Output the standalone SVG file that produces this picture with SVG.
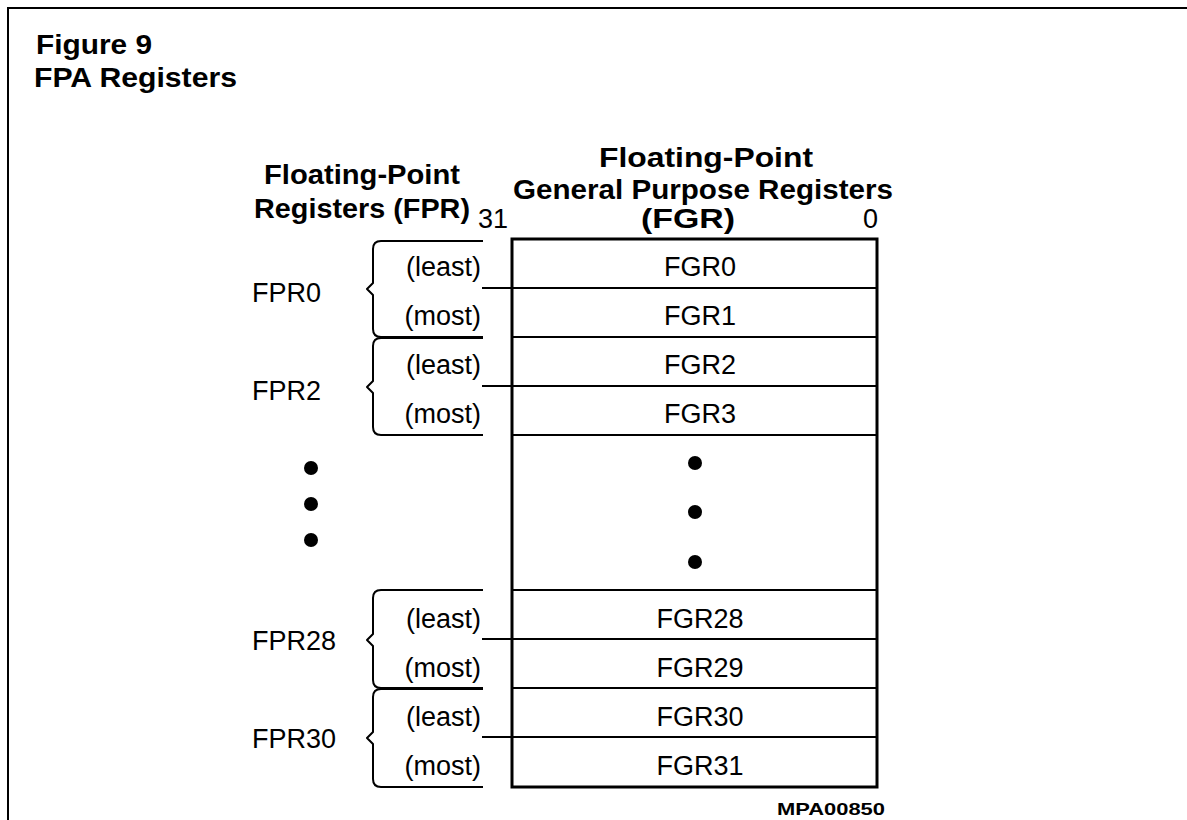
<svg xmlns="http://www.w3.org/2000/svg" width="1187" height="820" viewBox="0 0 1187 820">
<style>
.b{font-family:"Liberation Sans",Arial,sans-serif;font-weight:bold;font-size:28px;fill:#000}
.r{font-family:"Liberation Sans",Arial,sans-serif;font-size:27px;fill:#000}
.s{font-family:"Liberation Sans",Arial,sans-serif;font-weight:bold;font-size:17px;fill:#000}
.ln{stroke:#000;stroke-width:2;fill:none}
.br{stroke:#000;stroke-width:2;fill:none;stroke-linejoin:round}
.dot{fill:#000}
</style>
<rect width="1187" height="820" fill="#fff"/>
<g id="frame">
<path class="ln" d="M8,820 V8 H1187" stroke-width="2.5"/>
</g>
<g id="title">
<text class="b" x="36" y="54" textLength="116" lengthAdjust="spacingAndGlyphs">Figure 9</text>
<text class="b" x="34" y="87" textLength="203" lengthAdjust="spacingAndGlyphs">FPA Registers</text>
</g>
<g id="headings">
<text class="b" x="706" y="167" text-anchor="middle" textLength="214" lengthAdjust="spacingAndGlyphs">Floating-Point</text>
<text class="b" x="703" y="199" text-anchor="middle" textLength="380" lengthAdjust="spacingAndGlyphs">General Purpose Registers</text>
<text class="b" x="362" y="184" text-anchor="middle" textLength="196" lengthAdjust="spacingAndGlyphs">Floating-Point</text>
<text class="b" x="362" y="218" text-anchor="middle" textLength="216" lengthAdjust="spacingAndGlyphs">Registers (FPR)</text>
<text class="r" x="478" y="228">31</text>
<text class="b" x="688" y="228" text-anchor="middle" textLength="94" lengthAdjust="spacingAndGlyphs">(FGR)</text>
<text class="r" x="878" y="228" text-anchor="end">0</text>
</g>
<g id="fgr">
<rect x="512" y="239" width="365" height="548" fill="none" stroke="#000" stroke-width="3"/>
<path class="ln" d="M512,288H877 M512,337H877 M512,386H877 M512,435H877 M512,590H877 M512,639H877 M512,688H877 M512,737H877"/>
<g text-anchor="middle" class="r">
<text class="r" x="700" y="276">FGR0</text>
<text class="r" x="700" y="325">FGR1</text>
<text class="r" x="700" y="374">FGR2</text>
<text class="r" x="700" y="423">FGR3</text>
<text class="r" x="700" y="628">FGR28</text>
<text class="r" x="700" y="677">FGR29</text>
<text class="r" x="700" y="726">FGR30</text>
<text class="r" x="700" y="775">FGR31</text>
</g>
<circle class="dot" cx="695" cy="463" r="7"/>
<circle class="dot" cx="695" cy="512" r="7"/>
<circle class="dot" cx="695" cy="562" r="7"/>
</g>
<g id="connectors">
<path class="ln" d="M482,288H512 M482,386H512 M482,639H512 M482,737H512"/>
</g>
<g id="fpr0">
<path class="br" d="M483,241 H381 Q373,241 373,249 V283 L367,289 L373,295 V329 Q373,337 381,337 H483"/>
<text class="r" x="481" y="276" text-anchor="end">(least)</text>
<text class="r" x="481" y="325" text-anchor="end">(most)</text>
<text class="r" x="252" y="302">FPR0</text>
</g>
<g id="fpr2">
<path class="br" d="M483,338 H381 Q373,338 373,346 V381 L367,387 L373,393 V427 Q373,435 381,435 H483"/>
<text class="r" x="481" y="374" text-anchor="end">(least)</text>
<text class="r" x="481" y="423" text-anchor="end">(most)</text>
<text class="r" x="252" y="400">FPR2</text>
</g>
<g id="ellipsis">
<circle class="dot" cx="311" cy="468" r="7"/>
<circle class="dot" cx="311" cy="504" r="7"/>
<circle class="dot" cx="311" cy="540" r="7"/>
</g>
<g id="fpr28">
<path class="br" d="M483,590 H381 Q373,590 373,598 V634 L367,640 L373,646 V680 Q373,688 381,688 H483"/>
<text class="r" x="481" y="628" text-anchor="end">(least)</text>
<text class="r" x="481" y="677" text-anchor="end">(most)</text>
<text class="r" x="252" y="650">FPR28</text>
</g>
<g id="fpr30">
<path class="br" d="M483,689 H381 Q373,689 373,697 V732 L367,738 L373,744 V779 Q373,787 381,787 H483"/>
<text class="r" x="481" y="726" text-anchor="end">(least)</text>
<text class="r" x="481" y="775" text-anchor="end">(most)</text>
<text class="r" x="252" y="748">FPR30</text>
</g>
<text class="s" x="885" y="815" text-anchor="end" textLength="108" lengthAdjust="spacingAndGlyphs">MPA00850</text>
</svg>
